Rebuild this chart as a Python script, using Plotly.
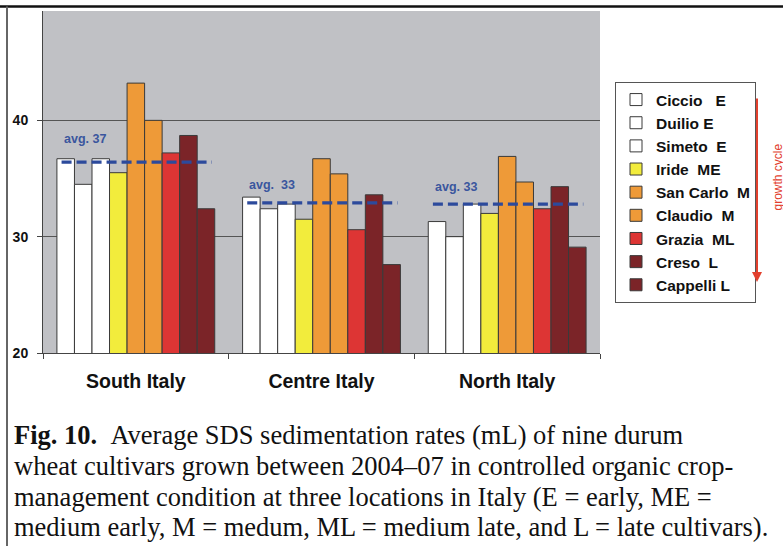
import plotly.graph_objects as go

# ---------------- data ----------------
locations = ["South Italy", "Centre Italy", "North Italy"]
cultivars = ["Ciccio", "Duilio", "Simeto", "Iride", "San Carlo", "Claudio", "Grazia", "Creso", "Cappelli"]
legend_labels = ["Ciccio\u00a0\u00a0\u00a0E", "Duilio E", "Simeto\u00a0\u00a0E", "Iride\u00a0\u00a0ME",
                 "San Carlo\u00a0\u00a0M", "Claudio\u00a0\u00a0M", "Grazia\u00a0\u00a0ML", "Creso\u00a0\u00a0L", "Cappelli L"]
ciccio = [36.7, 33.4, 31.3]
duilio = [34.5, 32.4, 30.0]
simeto = [36.7, 32.8, 32.8]
iride = [35.5, 31.5, 32.0]
san_carlo = [43.2, 36.7, 36.9]
claudio = [40.0, 35.4, 34.7]
grazia = [37.2, 30.6, 32.4]
creso = [38.7, 33.6, 34.3]
cappelli = [32.4, 27.6, 29.1]
series = [ciccio, duilio, simeto, iride, san_carlo, claudio, grazia, creso, cappelli]
avg_values = [36.4, 32.9, 32.8]
avg_labels = ["avg. 37", "avg.\u00a0\u00a033", "avg. 33"]
y_ticks = [20, 30, 40]

caption_lines = [
    "<b>Fig. 10.</b>\u00a0\u00a0Average SDS sedimentation rates (mL) of nine durum",
    "wheat cultivars grown between 2004\u201307 in controlled organic crop-",
    "management condition at three locations in Italy (E = early, ME =",
    "medium early, M = medum, ML = medium late, and L = late cultivars).",
]

# ---------------- style ----------------
W, H = 783, 546
ML, MR, MT, MB = 43, 183, 11, 193
PW, PH = W - ML - MR, H - MT - MB

def px(x):
    return (x - ML) / PW

def py(y):
    return (H - MB - y) / PH

colors = ["#FFFFFF", "#FFFFFF", "#FFFFFF", "#F2EC3C", "#EE9A38", "#EE9A38", "#DD3534", "#7B2428", "#7B2428"]
sans = "Liberation Sans, Arial, sans-serif"
serif = "Liberation Serif, Times New Roman, serif"
avg_color = "#2C4A9C"

fig = go.Figure()
for name, lab, vals, col in zip(cultivars, legend_labels, series, colors):
    fig.add_trace(go.Bar(
        x=locations, y=vals, name=lab, marker_color=col,
        marker_line=dict(color="#3A3A3A", width=1),
        hovertext=name,
    ))

avg_shifts = [23, 18, 17]
for i, (v, lab, ys) in enumerate(zip(avg_values, avg_labels, avg_shifts)):
    fig.add_trace(go.Scatter(
        x=[i - 0.40, i + 0.41], y=[v, v], mode="lines", xaxis="x2", showlegend=False,
        line=dict(color=avg_color, width=3.2, dash="10px,5px"), hoverinfo="skip",
    ))
    fig.add_annotation(x=i - 0.40, y=v, xref="x2", yref="y", text="<b>" + lab + "</b>",
                       showarrow=False, xanchor="left", yanchor="middle", yshift=ys,
                       font=dict(family=sans, size=12.5, color="#3A569E"))

fig.update_layout(
    width=W, height=H,
    margin=dict(l=ML, r=MR, t=MT, b=MB, autoexpand=False),
    paper_bgcolor="white", plot_bgcolor="#C0C1C5",
    barmode="group", bargap=0.15, bargroupgap=0,
    xaxis=dict(type="category", tickson="boundaries", ticks="outside", ticklen=5,
               tickcolor="#444", showline=True, linecolor="#444", linewidth=1,
               tickfont=dict(family=sans, size=19.5, color="#111", weight="bold"),
               ticklabelstandoff=11, showgrid=False),
    xaxis2=dict(overlaying="x", range=[-0.5, 2.5], visible=False),
    yaxis=dict(range=[20, 49.4], tickvals=y_ticks, ticks="outside", ticklen=5,
               tickcolor="#444", showline=True, linecolor="#444", linewidth=1,
               showgrid=True, gridcolor="#555", gridwidth=1, zeroline=False,
               tickfont=dict(family=sans, size=14, color="#111", weight="bold"),
               ticklabelstandoff=6),
    legend=dict(x=px(615), y=py(82), xanchor="left", yanchor="top",
                bgcolor="white", bordercolor="#555", borderwidth=1,
                font=dict(family=sans, size=15.5, color="#111", weight="bold")),
    showlegend=True,
)

# frame lines
fig.add_shape(type="line", xref="paper", yref="paper", x0=px(0), x1=px(W), y0=py(6.5), y1=py(6.5),
              line=dict(color="#111", width=2.5))
fig.add_shape(type="line", xref="paper", yref="paper", x0=px(7), x1=px(7), y0=py(6.5), y1=py(H),
              line=dict(color="#666", width=2))

# growth cycle arrow
fig.add_annotation(xref="paper", yref="paper", x=px(757), y=py(282), ax=0, ay=-185,
                   axref="pixel", ayref="pixel", text="", showarrow=True,
                   arrowhead=2, arrowsize=1, arrowwidth=2, arrowcolor="#E2402E")
fig.add_annotation(xref="paper", yref="paper", x=px(777.5), y=py(177), text="growth cycle",
                   textangle=-90, showarrow=False, xanchor="center", yanchor="middle",
                   font=dict(family=sans, size=12, color="#E2402E"))

# caption
for k, line in enumerate(caption_lines):
    fig.add_annotation(xref="paper", yref="paper", x=px(12), y=py(435 + k * 30.8), text=line,
                       showarrow=False, xanchor="left", yanchor="middle",
                       font=dict(family=serif, size=26.5, color="#111"))

fig.write_html("out.html")
